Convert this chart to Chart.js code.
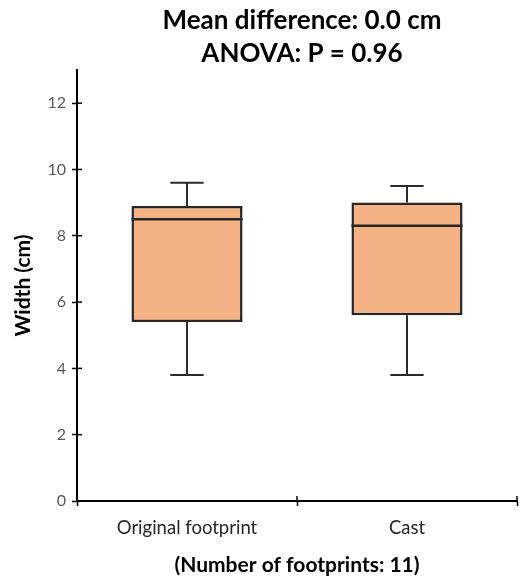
<!DOCTYPE html>
<html>
<head>
<meta charset="utf-8">
<script src="https://cdn.jsdelivr.net/npm/chart.js@4/dist/chart.umd.min.js"></script>
<style>
  html,body{margin:0;padding:0;background:#fff;}
  #wrap{width:522px;height:581px;}
</style>
</head>
<body>
<div id="wrap"><canvas id="c" width="522" height="581"></canvas></div>
<script>
const categories = ['Original footprint', 'Cast'];
const minValues = [3.8, 3.8];
const q1Values = [5.4, 5.6];
const medianValues = [8.5, 8.3];
const q3Values = [8.9, 9.0];
const maxValues = [9.6, 9.5];
const titleLines = ['Mean difference: 0.0 cm', 'ANOVA: P = 0.96'];
const yAxisTitle = 'Width (cm)';
const xAxisTitle = '(Number of footprints: 11)';

const FONT = 'Lato, "Open Sans", sans-serif';
const boxData = categories.map((c, i) => [q1Values[i], q3Values[i]]);

const boxPlugin = {
  id: 'boxParts',
  beforeDatasetsDraw(chart) {
    const ctx = chart.ctx;
    const meta = chart.getDatasetMeta(0);
    const y = chart.scales.y;
    ctx.save();
    ctx.strokeStyle = '#2b2b2b';
    ctx.lineWidth = 2;
    meta.data.forEach((bar, i) => {
      const x = bar.x;
      const half = bar.width * 0.15;
      const yMin = y.getPixelForValue(minValues[i]);
      const yMax = y.getPixelForValue(maxValues[i]);
      const yQ1 = y.getPixelForValue(q1Values[i]);
      const yQ3 = y.getPixelForValue(q3Values[i]);
      ctx.beginPath();
      ctx.moveTo(x, yQ3); ctx.lineTo(x, yMax);
      ctx.moveTo(x - half, yMax); ctx.lineTo(x + half, yMax);
      ctx.moveTo(x, yQ1); ctx.lineTo(x, yMin);
      ctx.moveTo(x - half, yMin); ctx.lineTo(x + half, yMin);
      ctx.stroke();
    });
    ctx.restore();
  },
  afterDatasetsDraw(chart) {
    const ctx = chart.ctx;
    const meta = chart.getDatasetMeta(0);
    const y = chart.scales.y;
    ctx.save();
    ctx.strokeStyle = '#262626';
    ctx.lineWidth = 2.5;
    meta.data.forEach((bar, i) => {
      const ym = y.getPixelForValue(medianValues[i]);
      ctx.beginPath();
      ctx.moveTo(bar.x - bar.width / 2, ym);
      ctx.lineTo(bar.x + bar.width / 2, ym);
      ctx.stroke();
    });
    ctx.restore();
  },
  afterDraw(chart) {
    const ctx = chart.ctx;
    const ca = chart.chartArea;
    ctx.save();
    ctx.strokeStyle = '#000';
    ctx.lineWidth = 1.5;
    const ys = chart.scales.y;
    ys.ticks.forEach((t, i) => {
      const py = ys.getPixelForTick(i);
      ctx.beginPath(); ctx.moveTo(ca.left, py); ctx.lineTo(ca.left + 5, py); ctx.stroke();
    });
    const xs = chart.scales.x;
    const n = categories.length;
    for (let i = 1; i <= n; i++) {
      const gx = i < n ? (xs.getPixelForTick(i - 1) + xs.getPixelForTick(i)) / 2 : xs.right;
      ctx.beginPath(); ctx.moveTo(gx, ca.bottom); ctx.lineTo(gx, ca.bottom - 5); ctx.stroke();
    }
    ctx.fillStyle = '#000';
    ctx.font = 'bold 26px ' + FONT;
    ctx.textAlign = 'center';
    ctx.textBaseline = 'alphabetic';
    const cx = (ca.left + ca.right) / 2 + 5;
    ctx.fillText(titleLines[0], cx, 29);
    ctx.fillText(titleLines[1], cx, 62);
    ctx.restore();
  }
};

new Chart(document.getElementById('c'), {
  type: 'bar',
  data: {
    labels: categories,
    datasets: [{
      data: boxData,
      backgroundColor: '#F4B183',
      borderColor: '#262626',
      borderWidth: 2.5,
      borderSkipped: false,
      categoryPercentage: 1,
      barPercentage: 0.505
    }]
  },
  options: {
    responsive: false,
    animation: false,
    layout: { padding: { top: 70, right: 5, left: 0, bottom: 0 } },
    plugins: { legend: { display: false }, tooltip: { enabled: false }, title: { display: false } },
    scales: {
      y: {
        min: 0, max: 13,
        afterFit(s) { s.width = 77; },
        ticks: { stepSize: 2, includeBounds: false, color: '#595959', font: { family: FONT, size: 16 }, padding: 6 },
        grid: { drawOnChartArea: false, drawTicks: true, tickLength: 5, tickColor: '#000', tickWidth: 1.5 },
        border: { display: true, color: '#000', width: 2 },
        title: { display: true, text: yAxisTitle, color: '#000', font: { family: FONT, size: 21, weight: 'bold' }, padding: { top: 11, bottom: 0 } }
      },
      x: {
        afterFit(s) { s.height = 80; },
        ticks: { color: '#262626', font: { family: FONT, size: 18.5 }, padding: 11 },
        grid: { offset: true, drawOnChartArea: false, drawTicks: true, tickLength: 5, tickColor: '#000', tickWidth: 1.5 },
        border: { display: true, color: '#000', width: 2 },
        title: { display: true, text: xAxisTitle, color: '#000', font: { family: FONT, size: 21, weight: 'bold' }, padding: { top: 0, bottom: 3 } }
      }
    }
  },
  plugins: [boxPlugin]
});
</script>
</body>
</html>
